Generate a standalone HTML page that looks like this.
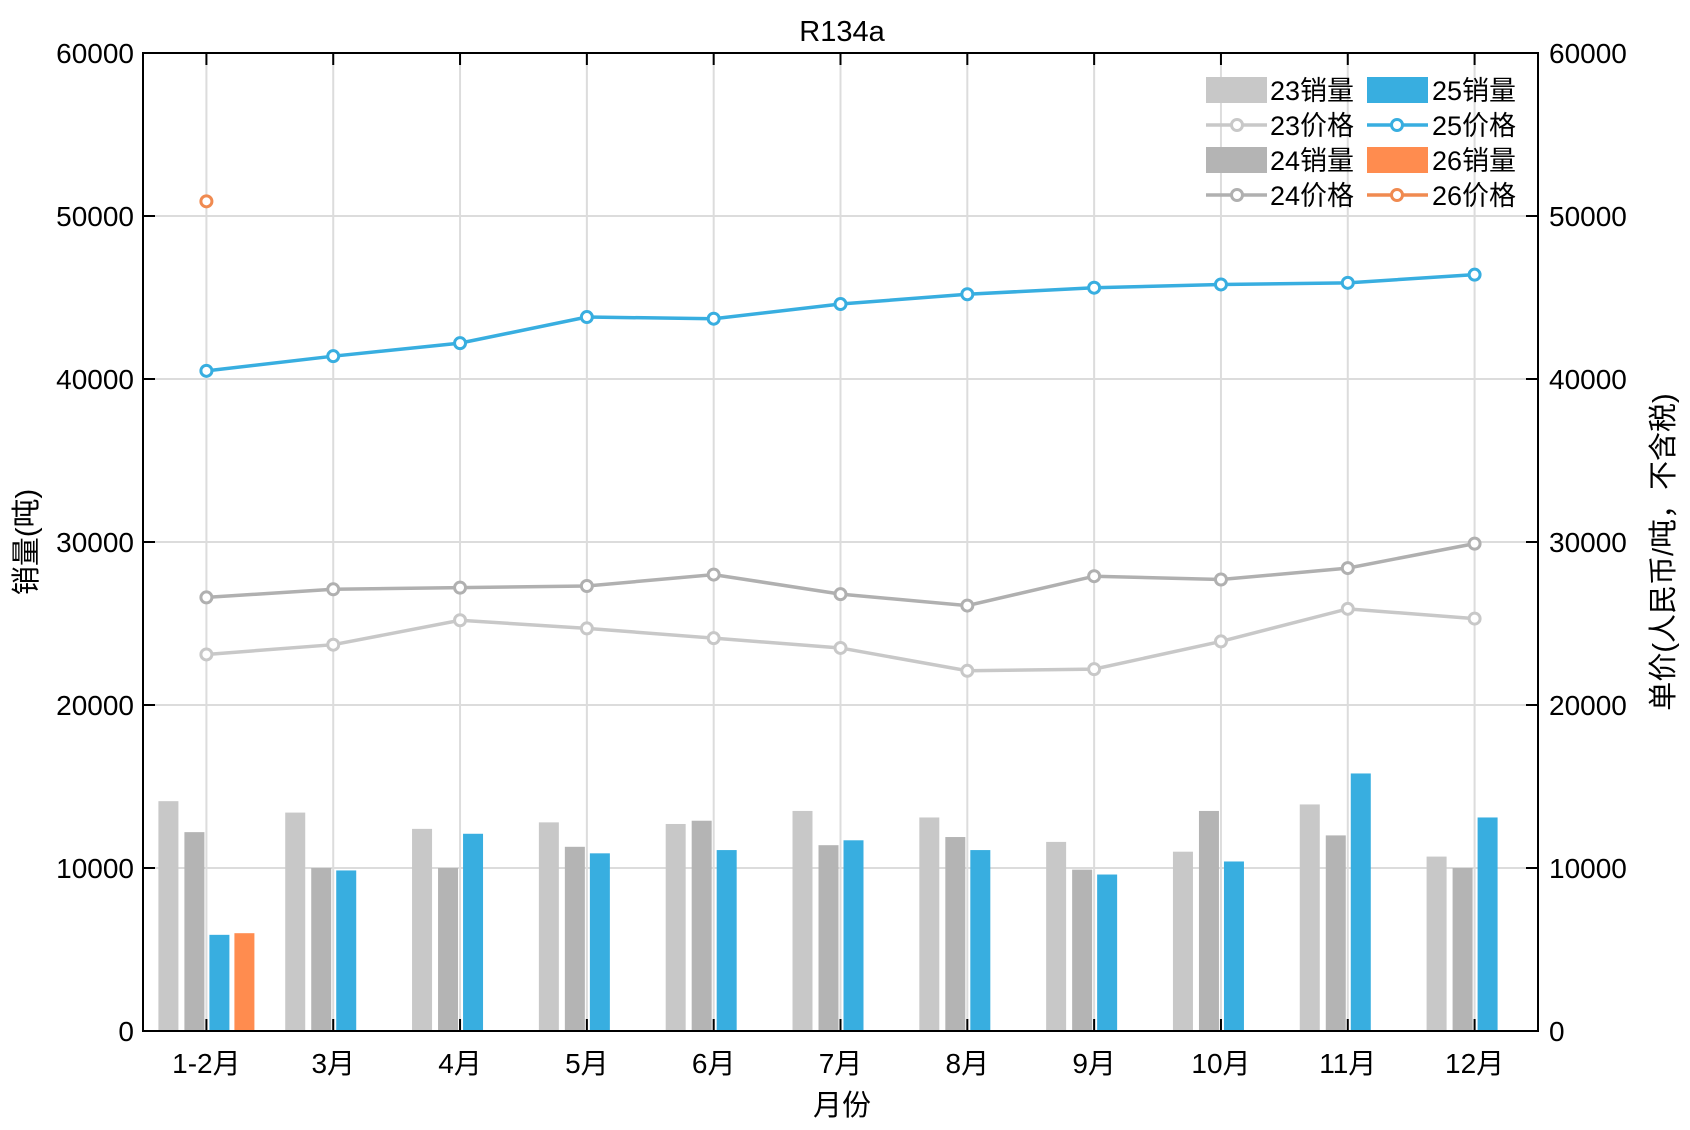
<!DOCTYPE html>
<html><head><meta charset="utf-8"><style>
html,body{margin:0;padding:0;background:#fff;}
svg{display:block;font-family:"Liberation Sans","Noto Sans CJK SC",sans-serif;}
</style></head><body>
<svg id="chart" width="1690" height="1130" viewBox="0 0 1690 1130"></svg>
<script>
const categories=["1-2月","3月","4月","5月","6月","7月","8月","9月","10月","11月","12月"];
const sales23=[14100,13400,12400,12800,12700,13500,13100,11600,11000,13900,10700];
const sales24=[12200,10000,10000,11300,12900,11400,11900,9900,13500,12000,10000];
const sales25=[5900,9850,12100,10900,11100,11700,11100,9600,10400,15800,13100];
const sales26=[6000];
const price23=[23100,23700,25200,24700,24100,23500,22100,22200,23900,25900,25300];
const price24=[26600,27100,27200,27300,28000,26800,26100,27900,27700,28400,29900];
const price25=[40500,41400,42200,43800,43700,44600,45200,45600,45800,45900,46400];
const price26=[50900];
const yTicks=[0,10000,20000,30000,40000,50000,60000];

const NS="http://www.w3.org/2000/svg";
const svg=document.getElementById('chart');
const L=143,R=1538,T=53,B=1031,yMax=60000;
const step=(R-L)/categories.length;
const xs=i=>L+(i+0.5)*step;
const ys=v=>B-v/yMax*(B-T);
function mk(tag,attrs,parent){const e=document.createElementNS(NS,tag);for(const k in attrs)e.setAttribute(k,attrs[k]);(parent||svg).appendChild(e);return e;}

const grid=mk('g',{});


yTicks.forEach(t=>{if(t>0&&t<yMax)mk('line',{x1:L,x2:R,y1:ys(t),y2:ys(t),stroke:'#dcdcdc','stroke-width':2},grid);});
categories.forEach((c,i)=>mk('line',{x1:xs(i),x2:xs(i),y1:T,y2:B,stroke:'#dcdcdc','stroke-width':2},grid));

const barSeries=[[sales23,'#c8c8c8',-38,'bar-23'],[sales24,'#b4b4b4',-12,'bar-24'],[sales25,'#38aee0',13,'bar-25'],[sales26,'#ff8c4f',38,'bar-26']];
barSeries.forEach(([arr,col,off,nm])=>{
  arr.forEach((v,i)=>{
    const r=mk('rect',{x:xs(i)+off-10,y:ys(v),width:20,height:B-ys(v),fill:col});
    
    
  });
});

const lineSeries=[[price23,'#c8c8c8','line-23-price'],[price24,'#b0b0b0','line-24-price'],[price25,'#38aee0','line-25-price'],[price26,'#f08a50','line-26-price']];
lineSeries.forEach(([arr,col,nm])=>{
  const g=mk('g',{});
  
  
  if(arr.length>1)mk('polyline',{points:arr.map((v,i)=>xs(i)+','+ys(v)).join(' '),fill:'none',stroke:col,'stroke-width':3.5},g);
  arr.forEach((v,i)=>{const c=mk('circle',{cx:xs(i),cy:ys(v),r:5.5,fill:'#fff',stroke:col,'stroke-width':3},g);
    
    });
});

const ax=mk('g',{});


mk('rect',{x:L,y:T,width:R-L,height:B-T,fill:'none',stroke:'#000','stroke-width':2},ax);
yTicks.forEach(t=>{
  const y=ys(t);
  mk('line',{x1:L,x2:L+12,y1:y,y2:y,stroke:'#000','stroke-width':2},ax);
  mk('line',{x1:R-12,x2:R,y1:y,y2:y,stroke:'#000','stroke-width':2},ax);
  const a=mk('text',{x:134,y:y+10,'text-anchor':'end','font-size':28},ax);a.textContent=t;
  
  
  const b=mk('text',{x:1549,y:y+10,'text-anchor':'start','font-size':28},ax);b.textContent=t;
  
  
});
categories.forEach((c,i)=>{
  const x=xs(i);
  mk('line',{x1:x,x2:x,y1:B-12,y2:B,stroke:'#000','stroke-width':2},ax);
  mk('line',{x1:x,x2:x,y1:T,y2:T+12,stroke:'#000','stroke-width':2},ax);
  const t=mk('text',{x:x,y:1073,'text-anchor':'middle','font-size':28},ax);t.textContent=c;
  
  
});
</script>
<div style="position:absolute;left:0;top:0;width:1690px;height:1130px;pointer-events:none;">
<svg width="1690" height="1130" style="position:absolute;left:0;top:0;font-family:'Liberation Sans','Noto Sans CJK SC',sans-serif;">
<text x="842" y="41" text-anchor="middle" font-size="29">R134a</text>
<text x="842" y="1115" text-anchor="middle" font-size="29">月份</text>
<text transform="translate(36,542) rotate(-90)" text-anchor="middle" font-size="29">销量(吨)</text>
<text transform="translate(1673,552) rotate(-90)" text-anchor="middle" font-size="29">单价(人民币/吨，不含税)</text>
<g font-size="27">
<rect x="1206" y="77" width="61" height="26" fill="#c8c8c8"/>
<text x="1270" y="100">23销量</text>
<line x1="1206" x2="1267" y1="125" y2="125" stroke="#c8c8c8" stroke-width="3.5"/><circle cx="1237" cy="125" r="5.5" fill="#fff" stroke="#c8c8c8" stroke-width="3"/>
<text x="1270" y="135">23价格</text>
<rect x="1206" y="147" width="61" height="26" fill="#b4b4b4"/>
<text x="1270" y="170">24销量</text>
<line x1="1206" x2="1267" y1="195" y2="195" stroke="#b0b0b0" stroke-width="3.5"/><circle cx="1237" cy="195" r="5.5" fill="#fff" stroke="#b0b0b0" stroke-width="3"/>
<text x="1270" y="205">24价格</text>
<rect x="1367" y="77" width="61" height="26" fill="#38aee0"/>
<text x="1432" y="100">25销量</text>
<line x1="1367" x2="1428" y1="125" y2="125" stroke="#38aee0" stroke-width="3.5"/><circle cx="1397" cy="125" r="5.5" fill="#fff" stroke="#38aee0" stroke-width="3"/>
<text x="1432" y="135">25价格</text>
<rect x="1367" y="147" width="61" height="26" fill="#ff8c4f"/>
<text x="1432" y="170">26销量</text>
<line x1="1367" x2="1428" y1="195" y2="195" stroke="#f08a50" stroke-width="3.5"/><circle cx="1397" cy="195" r="5.5" fill="#fff" stroke="#f08a50" stroke-width="3"/>
<text x="1432" y="205">26价格</text>
</g>
</svg>
</div>
</body></html>
